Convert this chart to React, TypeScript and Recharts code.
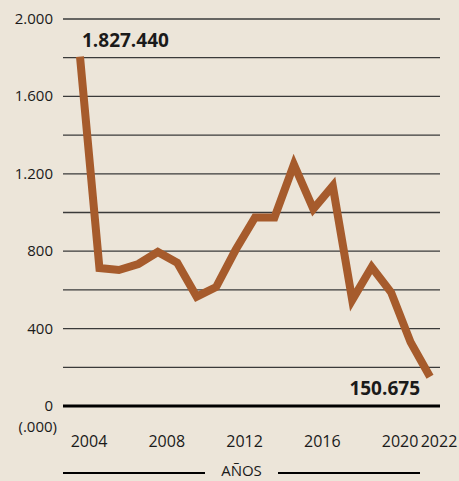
import { LineChart, Line, XAxis, YAxis, CartesianGrid, ReferenceLine } from 'recharts'

// Miles de unidades por año
const years = [2004, 2005, 2006, 2007, 2008, 2009, 2010, 2011, 2012, 2013, 2014, 2015, 2016, 2017, 2018, 2019, 2020, 2021, 2022]
const values = [1805, 713, 703, 734, 796, 740, 565, 615, 806, 974, 974, 1248, 1018, 1137, 548, 718, 587, 330, 151]
const yTicks = [0, 200, 400, 600, 800, 1000, 1200, 1400, 1600, 1800, 2000]
const yLabels = [0, 400, 800, 1200, 1600, 2000]
const xTicks = [2004, 2008, 2012, 2016, 2020, 2022]
const firstLabel = '1.827.440'
const lastLabel = '150.675'

const data = years.map((year, i) => ({ year, value: values[i] }))

const BG = '#ece5d9'
const BROWN = '#a65b2c'
const INK = '#1a1a1a'
const FONT = '"Open Sans", sans-serif'

const fmt = (v: number) => (v >= 1000 ? `${Math.floor(v / 1000)}.${String(v % 1000).padStart(3, '0')}` : String(v))

function YTick(props: any) {
  const { x, y, payload } = props
  const v = payload.value
  if (!yLabels.includes(v)) return null
  return (
    <g>
      <text x={x - 2} y={y} dy={5} textAnchor="end" fontSize={15} fontFamily={FONT} fill={INK}>
        {fmt(v)}
      </text>
      {v === 0 && (
        <text x={x + 2} y={y} dy={26} textAnchor="end" fontSize={15} fontFamily={FONT} fill={INK}>
          (.000)
        </text>
      )}
    </g>
  )
}

function XTick(props: any) {
  const { x, y, payload } = props
  return (
    <text x={x + 9} y={y} dy={33} textAnchor="middle" fontSize={16} fontFamily={FONT} fill={INK}>
      {payload.value}
    </text>
  )
}

function EndLabel(props: any) {
  const { x, y, index } = props
  if (index === 0) {
    return (
      <text x={x + 2} y={y - 10} textAnchor="start" fontSize={19} fontWeight={700} fontFamily={FONT} fill={INK}>
        {firstLabel}
      </text>
    )
  }
  if (index === data.length - 1) {
    return (
      <text x={x - 10} y={y + 18} textAnchor="end" fontSize={19} fontWeight={700} fontFamily={FONT} fill={INK}>
        {lastLabel}
      </text>
    )
  }
  return null
}

export default function App() {
  return (
    <div style={{ position: 'absolute', left: 0, top: 0, width: 459, height: 481, background: BG, overflow: 'hidden' }}>
      <LineChart width={459} height={481} data={data} margin={{ top: 19, right: 19, bottom: 0, left: 0 }}>
        <CartesianGrid horizontal vertical={false} stroke="#3a3a3a" strokeWidth={1.3} />
        <XAxis
          dataKey="year"
          type="number"
          domain={[2003.126, 2022.514]}
          ticks={xTicks}
          allowDataOverflow
          axisLine={false}
          tickLine={false}
          height={75}
          tick={<XTick />}
        />
        <YAxis
          type="number"
          domain={[0, 2000]}
          ticks={yTicks}
          interval={0}
          axisLine={false}
          tickLine={false}
          width={63}
          tick={<YTick />}
        />
        <ReferenceLine y={0} stroke="#000" strokeWidth={3} />
        <Line
          dataKey="value"
          type="linear"
          stroke={BROWN}
          strokeWidth={8}
          strokeLinejoin="miter"
          strokeLinecap="butt"
          dot={false}
          activeDot={false}
          isAnimationActive={false}
          label={<EndLabel />}
        />
      </LineChart>
      <div style={{ position: 'absolute', left: 63, top: 472, width: 142, height: 2, background: '#000' }} />
      <div style={{ position: 'absolute', left: 278, top: 472, width: 142, height: 2, background: '#000' }} />
      <div
        style={{ position: 'absolute', left: 205, width: 73, top: 460, textAlign: 'center', fontSize: 15, fontFamily: FONT, color: INK, lineHeight: '20px' }}
      >
        AÑOS
      </div>
    </div>
  )
}
